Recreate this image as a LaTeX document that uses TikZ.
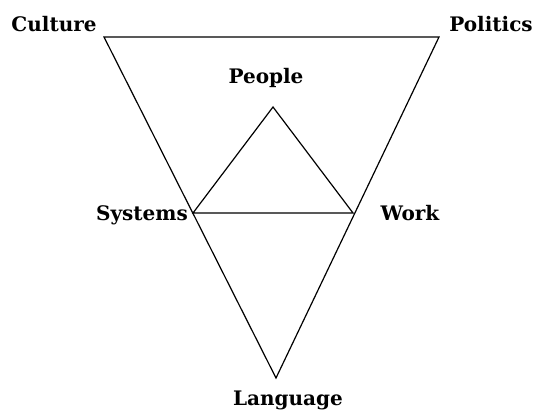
\documentclass[tikz,border=0pt]{standalone}
\usepackage{fontspec}
\setmainfont{DejaVu Serif}

\begin{document}
\begin{tikzpicture}[
  x=0.5pt, y=-0.5pt,
  every node/.style={inner sep=1pt},
  lbl/.style={anchor=base, font=\bfseries\fontsize{10}{12}\selectfont},
  edge/.style={draw, line width=0.6pt, line join=miter}]

  \useasboundingbox (0,0) rectangle (544,410);

  % ---- corners ------------------------------------------------------------
  \coordinate (cul) at (104,37);
  \coordinate (pol) at (439,37);
  \coordinate (lan) at (276,378);
  \coordinate (peo) at (273,107);
  \coordinate (sys) at (193,213);
  \coordinate (wrk) at (353,213);

  % ---- labels (placed by baseline) ----------------------------------------
  \node[lbl] (Culture)  at (54,32)   {Culture};
  \node[lbl] (Politics) at (491,32)  {Politics};
  \node[lbl] (People)   at (266,84)  {People};
  \node[lbl] (Systems)  at (142,221) {Systems};
  \node[lbl] (Work)     at (410,221) {Work};
  \node[lbl] (Language) at (288,405) {Language};

  % ---- triangles ----------------------------------------------------------
  \draw[edge] (cul) -- (pol) -- (lan) -- cycle;
  \draw[edge] (peo) -- (wrk) -- (sys) -- cycle;
\end{tikzpicture}
\end{document}
